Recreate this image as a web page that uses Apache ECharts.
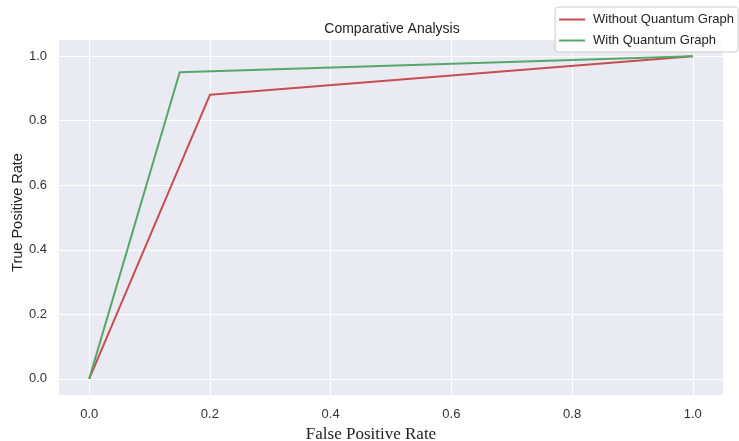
<!DOCTYPE html>
<html>
<head>
<meta charset="utf-8">
<script src="https://cdn.jsdelivr.net/npm/echarts@6/dist/echarts.min.js"></script>
<style>html,body{margin:0;padding:0;background:#fff;}#c{width:739px;height:441px;}</style>
</head>
<body>
<div id="c"></div>
<script>
const seriesNames = ['Without Quantum Graph', 'With Quantum Graph'];
const withoutFPR = [0, 0.2, 1];
const withoutTPR = [0, 0.88, 1];
const withFPR = [0, 0.15, 1];
const withTPR = [0, 0.95, 1];
const tickValues = [0, 0.2, 0.4, 0.6, 0.8, 1.0];

const chart = echarts.init(document.getElementById('c'));
const axisCommon = {
  type: 'value', min: -0.05, max: 1.05,
  axisLine: {show: false},
  axisTick: {show: false, customValues: tickValues},
  axisLabel: {customValues: tickValues, formatter: v => v.toFixed(1), color: '#333', fontSize: 13, fontFamily: 'Liberation Sans, Arial, sans-serif'},
  splitLine: {show: true, lineStyle: {color: '#fff', width: 1}}
};
chart.setOption({
  animation: false,
  title: {text: 'Comparative Analysis', left: 387, textAlign: 'center', top: 17,
    textStyle: {fontSize: 14, fontWeight: 'normal', color: '#222', fontFamily: 'Liberation Sans, Arial, sans-serif'}},
  legend: {
    data: seriesNames, orient: 'vertical', right: 1, top: 7,
    backgroundColor: 'rgba(255,255,255,0.85)', borderColor: '#ccc', borderWidth: 1, borderRadius: 3,
    padding: [6, 4, 5, 4], itemGap: 8, itemWidth: 26, itemHeight: 2, icon: 'rect',
    textStyle: {fontSize: 13, color: '#222', fontFamily: 'Liberation Sans, Arial, sans-serif', padding: [0, 0, 0, 3]}
  },
  grid: {left: 59, right: 16, top: 40, bottom: 46, backgroundColor: '#EAEAF2', show: true, borderWidth: 0,
    outerBoundsMode: 'none', containLabel: false},
  xAxis: Object.assign({}, axisCommon, {
    name: 'False Positive Rate', nameLocation: 'middle', nameGap: 31, nameMoveOverlap: false,
    nameTextStyle: {fontSize: 17, color: '#222', fontFamily: 'Liberation Serif, Times New Roman, serif', padding: [0, 40, 0, 0]},
    axisLabel: Object.assign({}, axisCommon.axisLabel, {margin: 13})
  }),
  yAxis: Object.assign({}, axisCommon, {
    name: 'True Positive Rate', nameLocation: 'middle', nameGap: 34, nameMoveOverlap: false,
    nameTextStyle: {fontSize: 14.5, color: '#222', fontFamily: 'Liberation Sans, Arial, sans-serif', padding: [0, 0, 0, 10]},
    axisLabel: Object.assign({}, axisCommon.axisLabel, {margin: 12})
  }),
  series: [
    {name: seriesNames[0], type: 'line', data: withoutFPR.map((x, i) => [x, withoutTPR[i]]),
      showSymbol: false, lineStyle: {color: '#C44E52', width: 2}, itemStyle: {color: '#C44E52'}},
    {name: seriesNames[1], type: 'line', data: withFPR.map((x, i) => [x, withTPR[i]]),
      showSymbol: false, lineStyle: {color: '#55A868', width: 2}, itemStyle: {color: '#55A868'}}
  ]
});
</script>
</body>
</html>
